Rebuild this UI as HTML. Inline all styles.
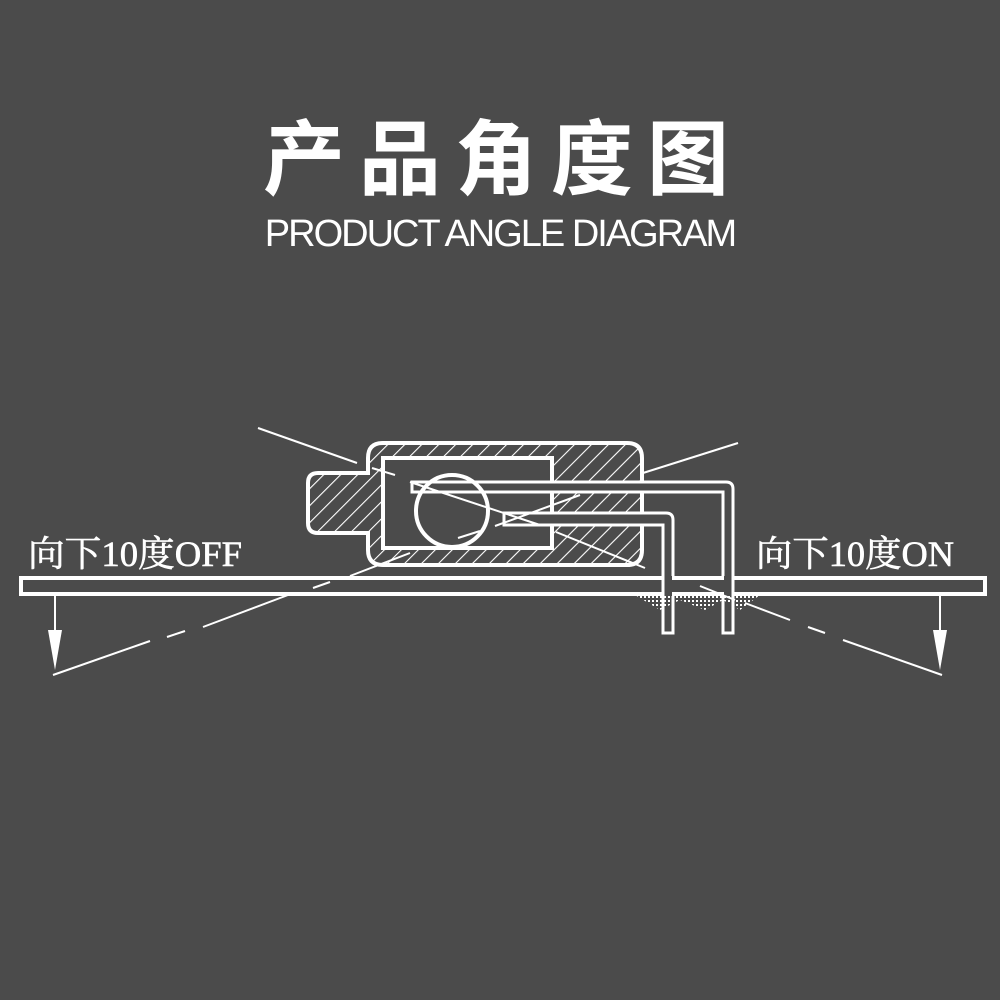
<!DOCTYPE html>
<html><head><meta charset="utf-8"><style>
html,body{margin:0;padding:0;background:#4b4b4b;}
svg{display:block}
</style></head><body>
<svg width="1000" height="1000" viewBox="0 0 1000 1000" xmlns="http://www.w3.org/2000/svg">
<defs>
<pattern id="h" width="12" height="12" patternUnits="userSpaceOnUse" patternTransform="rotate(45)">
<line x1="0" y1="0" x2="0" y2="12" stroke="#fff" stroke-width="2.2"/>
</pattern>
<pattern id="dots" width="4" height="4" patternUnits="userSpaceOnUse">
<rect width="2" height="2" fill="#fff"/>
</pattern>
<clipPath id="body"><path d="M383,443 H627 Q642,443 642,458 V550 Q642,565 627,565 H383 Q368,565 368,550 V533 H318 Q308,533 308,523 V483 Q308,473 318,473 H368 V458 Q368,443 383,443 Z"/></clipPath>
</defs>
<rect width="1000" height="1000" fill="#4b4b4b"/>
<text x="503" y="188" text-anchor="middle" fill="#fff" font-family="'Noto Sans CJK SC',sans-serif" font-weight="bold" font-size="82" letter-spacing="14">产品角度图</text>
<text x="500" y="246" text-anchor="middle" fill="#fff" font-family="'Liberation Sans',sans-serif" font-size="38" letter-spacing="-2" font-weight="300">PRODUCT ANGLE DIAGRAM</text>

<g stroke="#fff" fill="none">
<rect x="300" y="440" width="350" height="130" fill="url(#h)" stroke="none" clip-path="url(#body)"/>
<path d="M383,443 H627 Q642,443 642,458 V550 Q642,565 627,565 H383 Q368,565 368,550 V533 H318 Q308,533 308,523 V483 Q308,473 318,473 H368 V458 Q368,443 383,443 Z" stroke-width="4"/>
<rect x="383" y="458" width="169" height="90" fill="#4b4b4b" stroke-width="4"/>
<path d="M412,482 H726 Q733,482 733,489 V633 H723 V492 H412 Z" fill="#4b4b4b" stroke-width="3"/>
<path d="M504,513 H666 Q673,513 673,520 V633 H663 V525 H504 Z" fill="#4b4b4b" stroke-width="3"/>
<circle cx="452" cy="511" r="36" stroke-width="4"/>
<path d="M635,595 L660,610 L680,600 L705,610 L723,600 L740,610 L760,595 Z" fill="url(#dots)" stroke="none"/>
<rect x="21" y="578" width="964" height="16" fill="#4b4b4b" stroke-width="4"/>
<rect x="664" y="576" width="8" height="20" fill="#4b4b4b" stroke="none"/>
<rect x="724" y="576" width="8" height="20" fill="#4b4b4b" stroke="none"/>
<line x1="663" y1="576" x2="663" y2="633" stroke-width="3"/>
<line x1="673" y1="596" x2="673" y2="633" stroke-width="3"/>
<line x1="723" y1="596" x2="723" y2="633" stroke-width="3"/>
<line x1="733" y1="576" x2="733" y2="633" stroke-width="3"/>
<g stroke-width="2">
<line x1="258" y1="428" x2="357" y2="463"/>
<line x1="372" y1="468" x2="395" y2="475"/>
<line x1="410" y1="482" x2="540" y2="525"/>
<line x1="556" y1="532" x2="645" y2="568"/>
<line x1="700" y1="586" x2="735" y2="600"/>
<line x1="745" y1="603" x2="790" y2="620"/>
<line x1="808" y1="627" x2="825" y2="633"/>
<line x1="843" y1="640" x2="942" y2="675"/>
<line x1="643" y1="473" x2="738" y2="443"/>
<line x1="495" y1="526" x2="580" y2="495"/>
<line x1="458" y1="538" x2="480" y2="531"/>
<line x1="350" y1="576" x2="410" y2="553"/>
<line x1="313" y1="588" x2="330" y2="582"/>
<line x1="203" y1="627" x2="288" y2="595"/>
<line x1="167" y1="637" x2="185" y2="631"/>
<line x1="53" y1="675" x2="150" y2="641"/>
<line x1="55" y1="596" x2="55" y2="640"/>
<line x1="940" y1="596" x2="940" y2="640"/>
</g>
</g>
<polygon points="48,630 62,630 55,670" fill="#fff"/>
<polygon points="933,630 947,630 940,670" fill="#fff"/>
<text x="28" y="566" fill="#fff" stroke="#fff" stroke-width="0.6" font-family="'Liberation Serif','Noto Serif CJK SC',serif" font-size="36" textLength="214" lengthAdjust="spacingAndGlyphs">向下10度OFF</text>
<text x="756" y="566" fill="#fff" stroke="#fff" stroke-width="0.6" font-family="'Liberation Serif','Noto Serif CJK SC',serif" font-size="36" textLength="198" lengthAdjust="spacingAndGlyphs">向下10度ON</text>
</svg>
</body></html>
